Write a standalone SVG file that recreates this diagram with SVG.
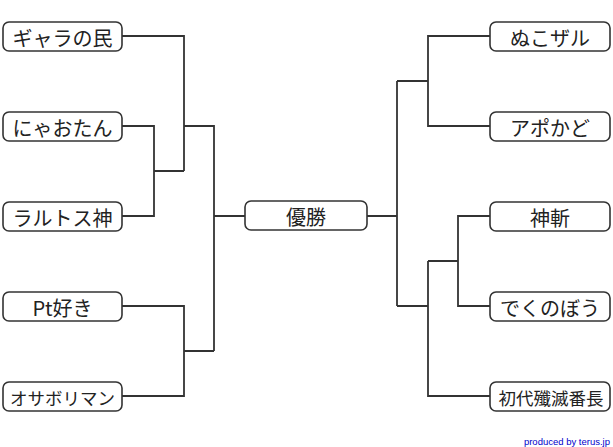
<svg xmlns="http://www.w3.org/2000/svg" width="613" height="447" viewBox="0 0 613 447">
<style>
.box{fill:#fff;stroke:#333;stroke-width:1.6}
.t{font-family:"Noto Sans CJK JP","Noto Sans",sans-serif;font-size:20px;fill:#222;text-anchor:middle;dominant-baseline:central}
.s{font-size:17.5px}
.c{fill:none;stroke:#333;stroke-width:1.8}
</style>
<rect width="613" height="447" fill="#fff"/>
<g id="connectors">
<path class="c" d="M122,36H184V171M122,126H154V216H122M154,171H184M184,126H214V351M122,306H184V396H122M184,351H214M214,216H245"/>
<path class="c" d="M367,216H397V306M397,81V216M397,81H428M490,36H428V126H490M397,306H428M428,261V396H490M428,261H458M490,216H458V306H490"/>
</g>
<g id="n1"><rect class="box" x="3" y="22" width="119" height="29" rx="6"/><text class="t" x="62.5" y="37">ギャラの民</text></g>
<g id="n2"><rect class="box" x="3" y="112" width="119" height="29" rx="6"/><text class="t" x="62.5" y="127">にゃおたん</text></g>
<g id="n3"><rect class="box" x="3" y="202" width="119" height="29" rx="6"/><text class="t" x="62.5" y="217">ラルトス神</text></g>
<g id="n4"><rect class="box" x="3" y="292" width="119" height="29" rx="6"/><text class="t" x="62.5" y="307">Pt好き</text></g>
<g id="n5"><rect class="box" x="3" y="382" width="119" height="29" rx="6"/><text class="t s" x="62.5" y="397">オサボリマン</text></g>
<g id="winner"><rect class="box" x="245" y="201" width="122" height="29" rx="6"/><text class="t" x="306" y="216">優勝</text></g>
<g id="n6"><rect class="box" x="490" y="22" width="120" height="29" rx="6"/><text class="t" x="550" y="37">ぬこザル</text></g>
<g id="n7"><rect class="box" x="490" y="112" width="120" height="29" rx="6"/><text class="t" x="550" y="127">アポかど</text></g>
<g id="n8"><rect class="box" x="490" y="202" width="120" height="29" rx="6"/><text class="t" x="550" y="217">神斬</text></g>
<g id="n9"><rect class="box" x="490" y="292" width="120" height="29" rx="6"/><text class="t" x="550" y="307">でくのぼう</text></g>
<g id="n10"><rect class="box" x="490" y="382" width="120" height="29" rx="6"/><text class="t s" x="551" y="397">初代殲滅番長</text></g>
<text x="610" y="445" font-family="Liberation Sans,Arial,sans-serif" font-size="9.5" fill="#0000cc" text-anchor="end">produced by terus.jp</text>
</svg>
